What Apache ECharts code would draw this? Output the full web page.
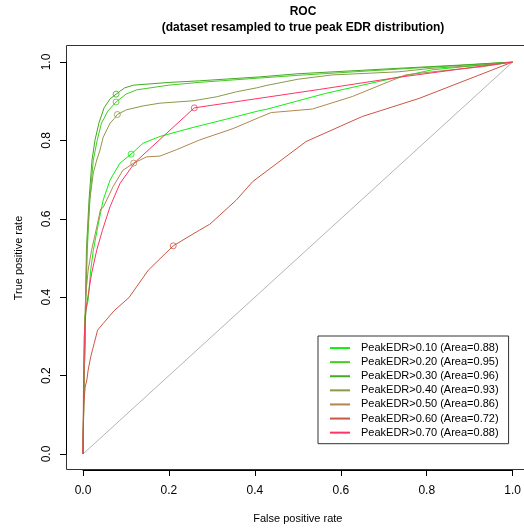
<!DOCTYPE html>
<html>
<head>
<meta charset="utf-8">
<script src="https://cdn.jsdelivr.net/npm/echarts@6/dist/echarts.min.js"></script>
<style>html,body{margin:0;padding:0;background:#fff;}#c{width:524px;height:529px;}</style>
</head>
<body>
<div id="c"></div>
<script>
const seriesNames = ['PeakEDR>0.10 (Area=0.88)','PeakEDR>0.20 (Area=0.95)','PeakEDR>0.30 (Area=0.96)','PeakEDR>0.40 (Area=0.93)','PeakEDR>0.50 (Area=0.86)','PeakEDR>0.60 (Area=0.72)','PeakEDR>0.70 (Area=0.88)'];
const colors = ['#11ee11','#44cc22','#44aa22','#8a9a48','#b08850','#cc5544','#ff3366'];
const xTicks = [0, 0.2, 0.4, 0.6, 0.8, 1.0];
const yTicks = [0, 0.2, 0.4, 0.6, 0.8, 1.0];

const roc10 = [[0,0],[0.002,0.2],[0.004,0.35],[0.012,0.393],[0.018,0.469],[0.024,0.52],[0.036,0.589],[0.047,0.648],[0.063,0.699],[0.086,0.742],[0.112,0.765],[0.14,0.793],[0.179,0.81],[0.256,0.833],[0.333,0.854],[0.411,0.876],[0.426,0.879],[0.565,0.92],[0.72,0.958],[0.812,0.98],[1,1]];
const roc20 = [[0,0],[0.002,0.15],[0.005,0.3],[0.007,0.4],[0.01,0.52],[0.016,0.65],[0.024,0.75],[0.033,0.8],[0.043,0.844],[0.058,0.875],[0.077,0.898],[0.1,0.918],[0.125,0.929],[0.2,0.941],[0.27,0.948],[0.41,0.959],[0.5,0.966],[0.735,0.982],[0.875,0.991],[1,1]];
const roc30 = [[0,0],[0.001,0.087],[0.002,0.163],[0.005,0.291],[0.006,0.393],[0.008,0.52],[0.014,0.648],[0.021,0.75],[0.028,0.801],[0.037,0.844],[0.049,0.883],[0.063,0.906],[0.077,0.918],[0.097,0.934],[0.118,0.941],[0.202,0.948],[0.271,0.952],[0.411,0.962],[0.5,0.97],[0.735,0.984],[0.875,0.992],[1,1]];
const roc40 = [[0,0],[0.003,0.2],[0.006,0.4],[0.01,0.55],[0.016,0.65],[0.024,0.717],[0.032,0.75],[0.039,0.773],[0.047,0.808],[0.063,0.844],[0.073,0.856],[0.08,0.866],[0.101,0.878],[0.14,0.888],[0.179,0.895],[0.256,0.901],[0.31,0.911],[0.357,0.924],[0.404,0.934],[0.426,0.94],[0.5,0.956],[0.58,0.967],[0.735,0.975],[0.812,0.984],[0.928,0.992],[1,1]];
const roc50 = [[0,0],[0.003,0.25],[0.006,0.4],[0.012,0.469],[0.02,0.52],[0.032,0.579],[0.041,0.625],[0.047,0.629],[0.07,0.682],[0.093,0.724],[0.118,0.742],[0.148,0.758],[0.179,0.76],[0.217,0.776],[0.271,0.801],[0.349,0.83],[0.411,0.859],[0.438,0.871],[0.534,0.88],[0.627,0.912],[0.712,0.95],[0.751,0.967],[0.813,0.975],[0.929,0.988],[1,1]];
const roc60 = [[0,0],[0.001,0.08],[0.002,0.13],[0.005,0.17],[0.009,0.189],[0.012,0.214],[0.018,0.248],[0.026,0.282],[0.034,0.316],[0.047,0.333],[0.072,0.365],[0.107,0.399],[0.152,0.469],[0.21,0.531],[0.271,0.571],[0.295,0.586],[0.357,0.648],[0.395,0.695],[0.519,0.797],[0.65,0.861],[0.782,0.907],[1,1]];
const roc70 = [[0,0],[0.001,0.15],[0.003,0.3],[0.007,0.37],[0.012,0.405],[0.02,0.46],[0.032,0.52],[0.045,0.57],[0.063,0.631],[0.086,0.69],[0.121,0.744],[0.259,0.883],[0.55,0.93],[0.735,0.961],[1,1]];
const rocCurves = [roc10, roc20, roc30, roc40, roc50, roc60, roc70];
const cutPoints = [[0.112,0.765],[0.077,0.898],[0.077,0.918],[0.080,0.866],[0.118,0.742],[0.21,0.531],[0.259,0.883]];
const diagonal = [[0,0],[1,1]];

const FONT = 'Liberation Sans, Arial, Helvetica, sans-serif';
const chart = echarts.init(document.getElementById('c'), null, {renderer: 'canvas'});

const series = [{
  type: 'line', data: diagonal, symbol: 'none', silent: true,
  lineStyle: {color: '#b4b4b4', width: 1}, z: 1
}];
rocCurves.forEach((d, i) => {
  series.push({
    name: seriesNames[i], type: 'line', data: d,
    symbol: 'none', showSymbol: false, color: colors[i],
    lineStyle: {color: colors[i], width: 1}, z: 2 + i
  });
});
cutPoints.forEach((p, i) => {
  series.push({
    type: 'scatter', data: [p], symbol: 'circle', symbolSize: 6,
    itemStyle: {color: 'rgba(0,0,0,0)', borderColor: colors[i], borderWidth: 1},
    z: 10, silent: true
  });
});

const option = {
  animation: false,
  backgroundColor: '#fff',
  title: {
    text: 'ROC\n(dataset resampled to true peak EDR distribution)',
    left: 298, top: -1, textAlign: 'center',
    textStyle: {fontFamily: FONT, fontSize: 12, fontWeight: 'bold', color: '#000', lineHeight: 15.5}
  },
  legend: {
    data: seriesNames.map((n, i) => ({name: n, icon: 'rect', itemStyle: {color: colors[i]}})),
    orient: 'vertical', left: 318, top: 336,
    itemWidth: 20, itemHeight: 2, itemGap: 0,
    padding: [5, 10, 4, 12],
    borderColor: '#333', borderWidth: 1,
    selectedMode: false,
    textStyle: {fontFamily: FONT, fontSize: 11, color: '#000', lineHeight: 14.1, padding: [0, 0, 0, 6]}
  },
  grid: {left: 83, right: 10, top: 62, bottom: 75, show: false},
  graphic: [{
    type: 'rect', silent: true, z: 0,
    shape: {x: 66.5, y: 45.5, width: 470, height: 424},
    style: {fill: 'none', stroke: '#333', lineWidth: 1}
  }],
  xAxis: {
    type: 'value', min: xTicks[0], max: xTicks[xTicks.length - 1], interval: 0.2,
    position: 'bottom', offset: 16,
    axisLine: {show: true, onZero: false, lineStyle: {color: '#000', width: 1}},
    axisTick: {show: true, inside: false, length: 6, lineStyle: {color: '#000'}},
    axisLabel: {fontFamily: FONT, fontSize: 12, color: '#000', margin: 15, formatter: v => v.toFixed(1)},
    splitLine: {show: false},
    name: 'False positive rate', nameLocation: 'middle', nameGap: 43,
    nameTextStyle: {fontFamily: FONT, fontSize: 11, color: '#000'}
  },
  yAxis: {
    type: 'value', min: yTicks[0], max: yTicks[yTicks.length - 1], interval: 0.2,
    position: 'left', offset: 17,
    axisLine: {show: true, onZero: false, lineStyle: {color: '#000', width: 1}},
    axisTick: {show: true, inside: false, length: 6, lineStyle: {color: '#000'}},
    axisLabel: {fontFamily: FONT, fontSize: 12, color: '#000', margin: 13, rotate: 90, formatter: v => v.toFixed(1)},
    splitLine: {show: false},
    name: 'True positive rate', nameLocation: 'middle', nameGap: 42,
    nameTextStyle: {fontFamily: FONT, fontSize: 11, color: '#000'}
  },
  series: series
};
chart.setOption(option);
</script>
</body>
</html>
